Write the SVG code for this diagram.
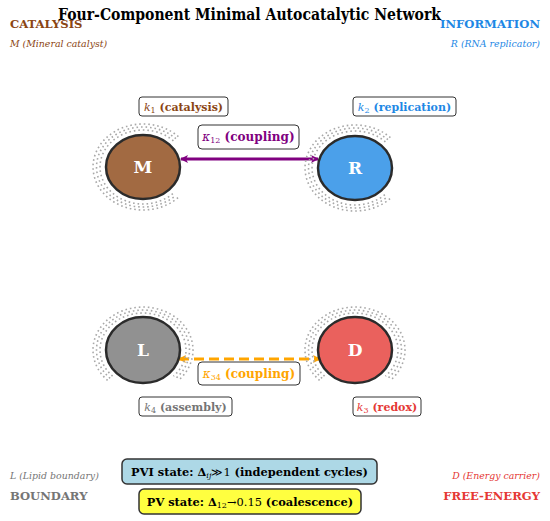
<svg xmlns="http://www.w3.org/2000/svg" width="550" height="521" viewBox="0 0 550 521">
<style>
text{font-family:"DejaVu Serif","Liberation Serif",serif;}
.b{font-weight:bold;}
.it{font-style:italic;font-weight:normal;}
.node{stroke:#2b2b2b;stroke-width:2.5;}
.nl{fill:#fff;font-weight:bold;font-size:17px;text-anchor:middle;}
.arc{fill:none;stroke:#a8a8a8;stroke-width:1.6;stroke-dasharray:1.6 2.9;}
.lbl{fill:#fff;stroke:#333;stroke-width:1;}
.lt{font-size:11px;font-weight:bold;text-anchor:middle;}
.ct{font-size:12px;font-weight:bold;text-anchor:middle;}
.st{font-size:11.4px;font-weight:bold;text-anchor:middle;}
.sub{font-size:8px;font-weight:normal;}
.ci{font-style:italic;font-size:9.4px;}
.cb{font-weight:bold;font-size:11.6px;}
</style>
<defs>
<marker id="hp" markerWidth="10" markerHeight="10" refX="7" refY="4" orient="auto-start-reverse" markerUnits="userSpaceOnUse">
<path d="M0,0 L8,4 L0,8 L2,4 Z" fill="#800080"/>
</marker>
<marker id="ho" markerWidth="10" markerHeight="10" refX="7" refY="4" orient="auto-start-reverse" markerUnits="userSpaceOnUse">
<path d="M0,0 L8,4 L0,8 L2,4 Z" fill="#FFA500"/>
</marker>
</defs>
<rect width="550" height="521" fill="#fff"/>

<g id="corner-labels">
<text x="10" y="28" class="cb" fill="#8B4513">CATALYSIS</text>
<text x="10" y="47" class="ci" fill="#8B4513">M (Mineral catalyst)</text>
<text x="540" y="28" class="cb" fill="#1E88E5" text-anchor="end">INFORMATION</text>
<text x="540" y="47" class="ci" fill="#1E88E5" text-anchor="end">R (RNA replicator)</text>
<text x="10" y="479" class="ci" fill="#757575">L (Lipid boundary)</text>
<text x="10" y="500" class="cb" fill="#757575">BOUNDARY</text>
<text x="540" y="479" class="ci" fill="#E53935" text-anchor="end">D (Energy carrier)</text>
<text x="540" y="500" class="cb" fill="#E53935" text-anchor="end">FREE-ENERGY</text>
</g>

<text x="249.5" y="19.5" class="b" font-size="16" text-anchor="middle" textLength="383" lengthAdjust="spacingAndGlyphs" fill="#000">Four-Component Minimal Autocatalytic Network</text>

<g id="connectors">
<line x1="181" y1="159" x2="318" y2="159" stroke="#800080" stroke-width="3" marker-start="url(#hp)" marker-end="url(#hp)"/>
<line x1="179" y1="359" x2="320" y2="359" stroke="#FFA500" stroke-width="3" stroke-dasharray="10 5" marker-start="url(#ho)" marker-end="url(#ho)"/>
</g>

<g id="node-M">
<path class="arc" d="M173.4,140.8 A43,37 0 1 0 173.4,193.2"/>
<path class="arc" d="M175.9,138.7 A46.5,40 0 1 0 175.9,195.3"/>
<path class="arc" d="M178.4,136.6 A50,43 0 1 0 178.4,197.4"/>
<ellipse class="node" cx="143" cy="167" rx="37" ry="32" fill="#A26A42"/>
<text class="nl" x="143" y="173">M</text>
<rect class="lbl" x="139" y="97" width="89" height="19" rx="3"/>
<text class="lt" x="183.5" y="110.5" fill="#8B4513"><tspan class="it">k</tspan><tspan class="sub" dy="2">1</tspan><tspan dy="-2"> (catalysis)</tspan></text>
</g>

<g id="node-R">
<path class="arc" d="M385.4,141.8 A43,37 0 1 0 385.4,194.2"/>
<path class="arc" d="M387.9,139.7 A46.5,40 0 1 0 387.9,196.3"/>
<path class="arc" d="M390.4,137.6 A50,43 0 1 0 390.4,198.4"/>
<ellipse class="node" cx="355" cy="168" rx="37" ry="32" fill="#4BA0EA"/>
<text class="nl" x="355" y="174">R</text>
<rect class="lbl" x="353" y="97" width="103" height="19" rx="3"/>
<text class="lt" x="404.5" y="110.5" fill="#1E88E5"><tspan class="it">k</tspan><tspan class="sub" dy="2">2</tspan><tspan dy="-2"> (replication)</tspan></text>
</g>

<g id="node-L">
<path class="arc" d="M112.6,376.2 A43,37 0 1 1 173.4,376.2"/>
<path class="arc" d="M110.1,378.3 A46.5,40 0 1 1 175.9,378.3"/>
<path class="arc" d="M107.6,380.4 A50,43 0 1 1 178.4,380.4"/>
<ellipse class="node" cx="143" cy="350" rx="37" ry="33" fill="#919191"/>
<text class="nl" x="143" y="356">L</text>
<rect class="lbl" x="139" y="397" width="93" height="19" rx="3"/>
<text class="lt" x="185.5" y="410.5" fill="#757575"><tspan class="it">k</tspan><tspan class="sub" dy="2">4</tspan><tspan dy="-2"> (assembly)</tspan></text>
</g>

<g id="node-D">
<path class="arc" d="M324.6,376.2 A43,37 0 1 1 385.4,376.2"/>
<path class="arc" d="M322.1,378.3 A46.5,40 0 1 1 387.9,378.3"/>
<path class="arc" d="M319.6,380.4 A50,43 0 1 1 390.4,380.4"/>
<ellipse class="node" cx="355" cy="350" rx="37" ry="33" fill="#EA615D"/>
<text class="nl" x="355" y="356">D</text>
<rect class="lbl" x="353" y="397" width="68" height="19" rx="3"/>
<text class="lt" x="387" y="410.5" fill="#E53935"><tspan class="it">k</tspan><tspan class="sub" dy="2">3</tspan><tspan dy="-2"> (redox)</tspan></text>
</g>

<g id="coupling-labels">
<rect class="lbl" x="198" y="125" width="101" height="24" rx="4"/>
<text class="ct" x="248.5" y="141" fill="#800080"><tspan class="it">κ</tspan><tspan class="sub" dy="2">12</tspan><tspan dy="-2"> (coupling)</tspan></text>
<rect class="lbl" x="198" y="362" width="102" height="23" rx="4"/>
<text class="ct" x="249" y="377.5" fill="#FFA500"><tspan class="it">κ</tspan><tspan class="sub" dy="2">34</tspan><tspan dy="-2"> (coupling)</tspan></text>
</g>

<g id="state-PVI">
<rect x="122" y="459" width="255" height="25" rx="5" fill="#ADD8E6" stroke="#333" stroke-width="1.5"/>
<text class="st" x="249.5" y="475.5" fill="#000">PVI state: Δ<tspan class="sub it" dy="2">ij</tspan><tspan dy="-2" font-weight="normal">≫1</tspan> (independent cycles)</text>
</g>
<g id="state-PV">
<rect x="139" y="489" width="222" height="25" rx="5" fill="#FFFF40" stroke="#333" stroke-width="1.5"/>
<text class="st" x="250" y="505.5" fill="#000">PV state: Δ<tspan class="sub" dy="2">12</tspan><tspan dy="-2" font-weight="normal">→0.15</tspan> (coalescence)</text>
</g>
</svg>
